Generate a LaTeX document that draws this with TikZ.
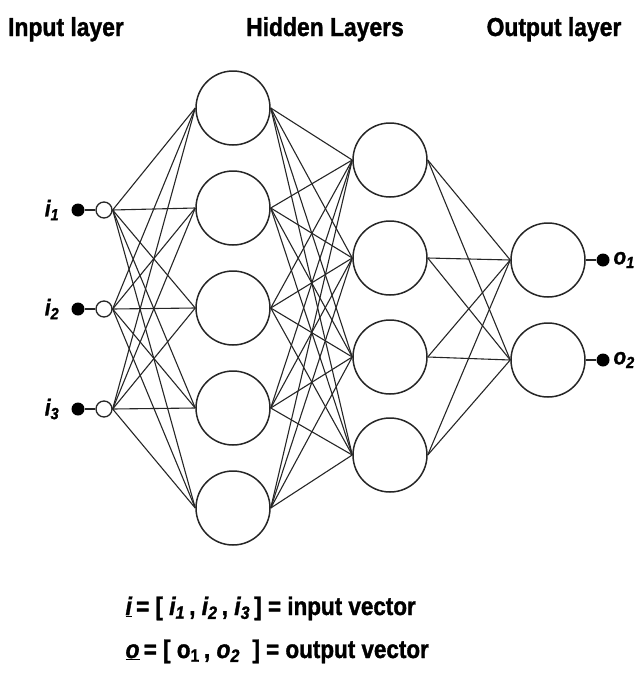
\documentclass[tikz,border=0pt]{standalone}
\usepackage{fontspec}
\setmainfont{Liberation Sans}
\newfontfamily\heavy[FakeBold=1.3,FakeStretch=0.88]{Liberation Sans Bold}
\newfontfamily\heavyit[FakeBold=1.3,FakeStretch=0.9]{Liberation Sans Bold Italic}
\begin{document}
\begin{tikzpicture}[x=1pt,y=-1pt,
  neuron/.style={circle,draw=black!85,line width=1.5pt,minimum size=74pt,inner sep=0pt},
  opencirc/.style={circle,draw=black!85,line width=1.3pt,fill=white,minimum size=16pt,inner sep=0pt},
  dot/.style={circle,fill=black,minimum size=13pt,inner sep=0pt},
  conn/.style={draw=black!85,line width=1.1pt},
  title/.style={font=\fontsize{26}{28}\selectfont\heavy,anchor=base},
  lab/.style={font=\fontsize{23}{24}\selectfont\heavyit},
  formula/.style={font=\fontsize{25.5}{27}\selectfont\heavy,anchor=base west}]
\useasboundingbox (0,0) rectangle (640,675);
% titles
\node[title] (t1) at (66,36) {Input layer};
\node[title] (t2) at (325,36) {Hidden Layers};
\node[title] (t3) at (554,36) {Output layer};
% input
\foreach \k/\y in {1/210,2/309,3/409}{
  \node[dot] (id\k) at (78,\y) {};
  \node[opencirc] (ic\k) at (104,\y) {};
  \node[lab] (il\k) at (52,\y) {i\textsubscript{\k}};
  \draw[conn] (id\k) -- (ic\k);
}
% hidden 1
\foreach \k/\y in {1/108,2/208,3/308,4/408,5/508}{
  \node[neuron] (a\k) at (233,\y) {};
}
% hidden 2
\foreach \k/\y in {1/160,2/258,3/357,4/455}{
  \node[neuron] (b\k) at (390,\y) {};
}
% output
\foreach \k/\y in {1/260,2/360}{
  \node[neuron] (c\k) at (548,\y) {};
  \node[dot] (od\k) at (603,\y) {};
  \node[lab,anchor=west] (ol\k) at (610,\y) {o\textsubscript{\k}};
  \draw[conn] (c\k) -- (od\k);
}
% connections
\foreach \i in {1,2,3}{\foreach \j in {1,...,5}{\draw[conn] (ic\i.east) -- (a\j.west);}}
\foreach \i in {1,...,5}{\foreach \j in {1,...,4}{\draw[conn] (a\i.east) -- (b\j.west);}}
\foreach \i in {1,...,4}{\foreach \j in {1,2}{\draw[conn] (b\i.east) -- (c\j.west);}}
% formulas
\node[formula] (f1) at (122,615) {{\heavyit\underline{i}}\,= [ {\heavyit i\textsubscript{1}}\,, {\heavyit i\textsubscript{2}}\,, {\heavyit i\textsubscript{3}}\,] = input vector};
\node[formula] (f2) at (122,658) {{\heavyit\underline{o}}\,= [ o\textsubscript{1}\,, {\heavyit o\textsubscript{2}}\ \ ] = output vector};
\end{tikzpicture}
\end{document}
